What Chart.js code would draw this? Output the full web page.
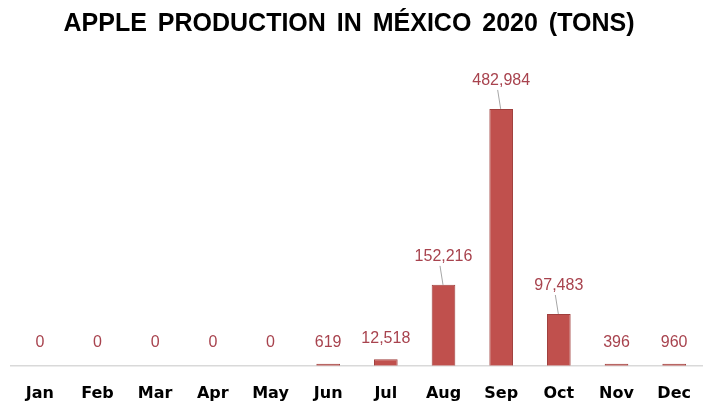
<!DOCTYPE html>
<html>
<head>
<meta charset="utf-8">
<script src="https://cdn.jsdelivr.net/npm/chart.js@4/dist/chart.umd.min.js"></script>
<style>
  html, body { margin: 0; padding: 0; background: #fff; }
  #wrap { width: 703px; height: 402px; }
</style>
</head>
<body>
<div id="wrap"><canvas id="apples"></canvas></div>
<script>
const titleText = "APPLE PRODUCTION IN MÉXICO 2020 (TONS)";
const months = ["Jan", "Feb", "Mar", "Apr", "May", "Jun", "Jul", "Aug", "Sep", "Oct", "Nov", "Dec"];
const tons = [0, 0, 0, 0, 0, 619, 12518, 152216, 482984, 97483, 396, 960];
const yMax = 575000;

const barColor = "#c0504d";
const barEdge = "#a03f3d";
const labelColor = "#a8434e";

// title drawn by hand so it can sit a bit left of centre like the original
const titleDraw = {
  id: "titleDraw",
  afterDraw(chart) {
    const ctx = chart.ctx;
    ctx.save();
    ctx.font = "bold 25px 'Liberation Sans', Arial, sans-serif";
    ctx.fillStyle = "#000";
    ctx.textAlign = "center";
    ctx.textBaseline = "middle";
    ctx.wordSpacing = "4px";
    ctx.fillText(titleText, 349, 24);
    ctx.restore();
  }
};

// value labels above the bars, with a little leader line on the tall ones
const valueLabels = {
  id: "valueLabels",
  afterDatasetsDraw(chart) {
    const ctx = chart.ctx;
    const meta = chart.getDatasetMeta(0);
    ctx.save();
    ctx.font = "16px 'Liberation Sans', Arial, sans-serif";
    ctx.fillStyle = labelColor;
    ctx.textAlign = "center";
    ctx.textBaseline = "middle";
    meta.data.forEach((bar, i) => {
      const h = bar.base - bar.y;
      const txt = tons[i].toLocaleString("en-US");
      if (h > 50) {
        const ty = bar.y - 28;
        ctx.fillText(txt, bar.x, ty);
        ctx.strokeStyle = "#a6a6a6";
        ctx.lineWidth = 1;
        ctx.beginPath();
        ctx.moveTo(bar.x - 3.5, ty + 9);
        ctx.lineTo(bar.x - 0.5, bar.y);
        ctx.stroke();
      } else {
        ctx.fillText(txt, bar.x, bar.y - 21);
      }
    });
    ctx.restore();
  }
};

new Chart(document.getElementById("apples"), {
  type: "bar",
  data: {
    labels: months,
    datasets: [{
      data: tons,
      backgroundColor: c => c.raw === 0 ? "rgba(0,0,0,0)" : barColor,
      borderColor: c => c.raw === 0 ? "rgba(0,0,0,0)" : barEdge,
      borderWidth: 1,
      minBarLength: 2,
      barPercentage: 0.41,
      categoryPercentage: 1
    }]
  },
  options: {
    responsive: true,
    maintainAspectRatio: false,
    animation: false,
    layout: { padding: { left: 11, right: -13, top: 60, bottom: -11 } },
    plugins: {
      legend: { display: false },
      tooltip: { enabled: false },
      title: { display: false }
    },
    scales: {
      y: { display: false, min: 0, max: yMax },
      x: {
        grid: { display: false },
        border: { display: true, color: "#d9d9d9", width: 1.5 },
        ticks: {
          color: "#000",
          padding: 10,
          font: { family: "'DejaVu Sans', Tahoma, sans-serif", size: 16, weight: "bold" }
        }
      }
    }
  },
  plugins: [valueLabels, titleDraw]
});
</script>
</body>
</html>
